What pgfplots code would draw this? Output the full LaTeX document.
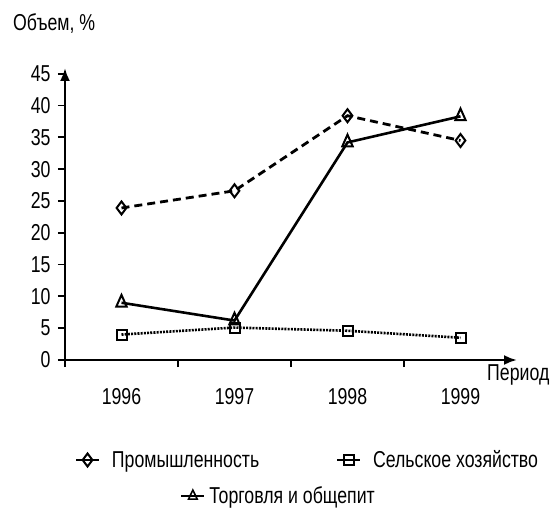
\documentclass[border=0pt]{standalone}
\usepackage{fontspec}
\setmainfont{Liberation Sans}[FakeStretch=0.77]
\usepackage{pgfplots}
\pgfplotsset{compat=1.18}
\usetikzlibrary{arrows.meta}

\pgfplotstableread{
x y
1 23.9
2 26.6
3 38.4
4 34.5
}\prom
\pgfplotstableread{
x y
1 4.0
2 5.1
3 4.6
4 3.5
}\selh
\pgfplotstableread{
x y
1 9.0
2 6.2
3 34.2
4 38.3
}\torg

\newcommand{\fnt}{\fontsize{23}{26}\selectfont}

\pgfplotsset{
  mylegimg/.style={legend image code/.code={%
    \draw[solid, line width=1.8pt, mark repeat=2, mark phase=2, ##1] plot coordinates {(0pt,0pt) (11.5pt,0pt) (23pt,0pt)};}},
  mylegstyle/.style={legend style={draw=none, fill=none, inner sep=0pt,
     font=\fnt, legend cell align=left, nodes={inner sep=4pt}}},
}

\begin{document}
\begin{tikzpicture}[x=1pt,y=1pt]
\path (0,0) rectangle (554,509);
\node[anchor=base west, font=\fnt, inner sep=0pt] at (13,478) {Объем, \%};
\node[anchor=base west, font=\fnt, inner sep=0pt] at (487,129) {Период};
\begin{axis}[
  at={(65pt,149pt)}, anchor=south west,
  scale only axis, width=452pt, height=292pt,
  xmin=0.5, xmax=4.5, ymin=0, ymax=45.9,
  axis lines=left,
  axis line style={line width=2.4pt, -{Latex[length=13pt,width=10pt]}},
  xtick={0.5,1.5,2.5,3.5}, xticklabels={},
  ytick={0,5,...,45},
  yticklabel style={xshift=-4pt},
  extra x ticks={1,2,3,4},
  extra x tick labels={1996,1997,1998,1999},
  extra x tick style={major tick length=0pt, xticklabel style={yshift=-25pt}},
  tick align=outside, major tick length=7pt,
  tick style={line width=1.8pt, black},
  every tick label/.append style={font=\fnt},
  /pgf/number format/assume math mode=true,
  mylegimg, mylegstyle,
  legend columns=2,
  legend style={at={(0.022,-0.3425)}, anchor=west,
     /tikz/every odd column/.append style={column sep=8pt},
     /tikz/every even column/.append style={column sep=73pt}},
]
\addplot[black, line width=2.8pt, dash pattern=on 8pt off 5pt,
  mark=diamond, mark size=6.5pt, mark options={solid, fill=white, line width=2pt}]
  table[x=x,y=y]{\prom};
\addlegendentry{Промышленность}
\addplot[black, line width=2.6pt, dash pattern=on 2pt off 1.2pt,
  mark=square, mark size=5pt, mark options={solid, fill=white, line width=2pt}]
  table[x=x,y=y]{\selh};
\addlegendentry{Сельское хозяйство}
\addplot[black, line width=2.6pt,
  mark=triangle, mark size=6pt, mark options={solid, fill=white, line width=2pt, yscale=1.3}]
  table[x=x,y=y]{\torg};
\end{axis}
\begin{axis}[
  at={(65pt,149pt)}, anchor=south west,
  scale only axis, width=452pt, height=292pt,
  xmin=0.5, xmax=4.5, ymin=0, ymax=45.9,
  hide axis,
  mylegimg, mylegstyle,
  legend style={at={(0.255,-0.466)}, anchor=west},
]
\addlegendimage{black, mark=triangle, mark size=5pt, mark options={solid, fill=white, line width=1.6pt, yscale=1.2}}
\addlegendentry{Торговля и общепит}
\end{axis}
\end{tikzpicture}
\end{document}
